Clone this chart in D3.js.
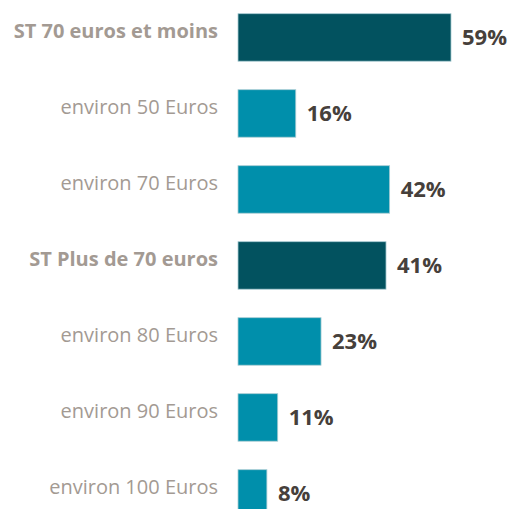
<!DOCTYPE html>
<html>
<head>
<meta charset="utf-8">
<script src="https://cdn.jsdelivr.net/npm/d3@7"></script>
<style>
  html, body { margin: 0; padding: 0; background: #fff; }
  svg { display: block; }
</style>
</head>
<body>
<svg id="drawing_region"></svg>
<script>
const categories = [
  "ST 70 euros et moins",
  "environ 50 Euros",
  "environ 70 Euros",
  "ST Plus de 70 euros",
  "environ 80 Euros",
  "environ 90 Euros",
  "environ 100 Euros"
];
const values = [59, 16, 42, 41, 23, 11, 8];
const isSubtotal = [true, false, false, true, false, false, false];

const width = 509;
const height = 509;
const barLeft = 238;

const svg = d3.select('#drawing_region')
    .attr('width', width)
    .attr('height', height);

const data = categories.map((c, i) => ({ label: c, value: values[i], st: isSubtotal[i] }));

// scales
const xscale = d3.scaleLinear()
    .domain([0, 59])
    .range([barLeft, barLeft + 213]);

const yscale = d3.scaleBand()
    .domain(categories)
    .range([13.7, 517.2])
    .paddingInner(0.375)
    .paddingOuter(0);

// bars
svg.selectAll("rect.bar").data(data).enter()
    .append("rect")
    .attr("class", "bar")
    .attr("x", xscale(0))
    .attr("y", d => yscale(d.label))
    .attr("width", d => xscale(d.value) - xscale(0))
    .attr("height", yscale.bandwidth())
    .attr("fill", d => d.st ? "#02525f" : "#008fab")
    .attr("stroke", "#a9ccd3")
    .attr("stroke-width", 0.8);

// category labels
svg.selectAll("text.cat").data(data).enter()
    .append("text")
    .attr("class", "cat")
    .attr("x", 218)
    .attr("y", d => yscale(d.label) + yscale.bandwidth() / 2 - 6)
    .attr("dy", "0.35em")
    .attr("text-anchor", "end")
    .attr("font-family", "'Open Sans', sans-serif")
    .attr("font-size", "20px")
    .attr("font-weight", d => d.st ? "bold" : "normal")
    .attr("fill", "#a39a93")
    .text(d => d.label);

// value labels
svg.selectAll("text.val").data(data).enter()
    .append("text")
    .attr("class", "val")
    .attr("x", d => xscale(d.value) + 11)
    .attr("y", d => yscale(d.label) + yscale.bandwidth() / 2)
    .attr("dy", "0.35em")
    .attr("font-family", "'Open Sans', sans-serif")
    .attr("font-size", "22px")
    .attr("font-weight", "bold")
    .attr("fill", "#46403b")
    .text(d => d.value + "%");
</script>
</body>
</html>
